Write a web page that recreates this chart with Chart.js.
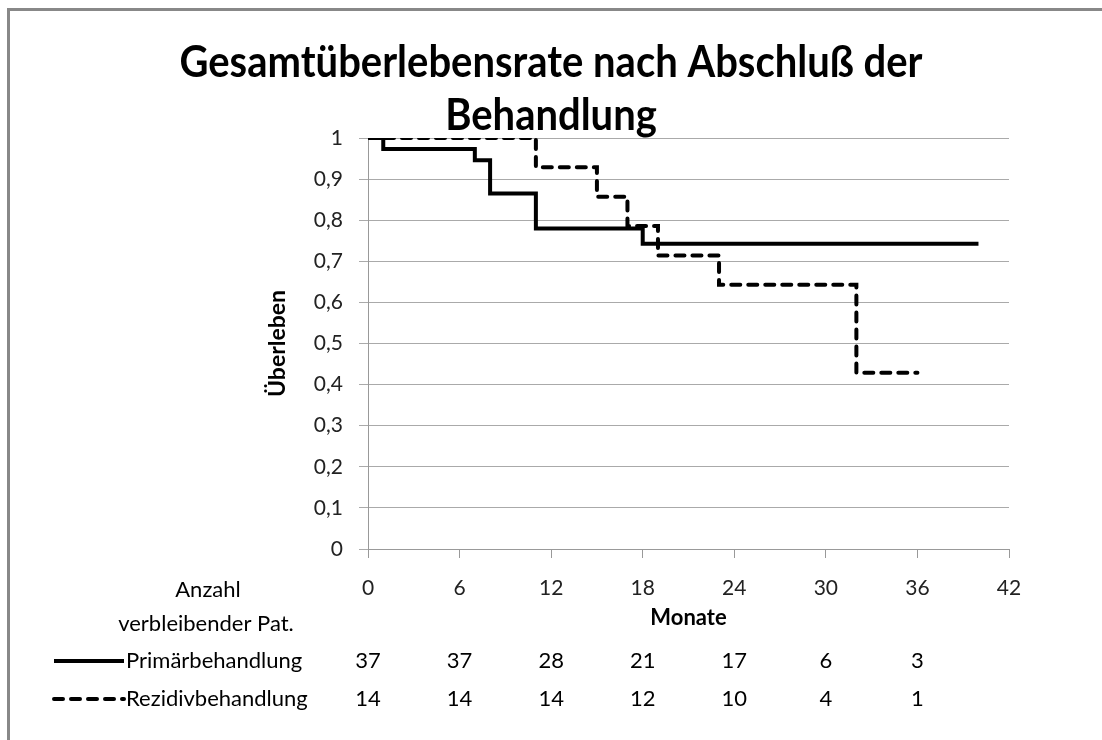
<!DOCTYPE html>
<html>
<head>
<meta charset="utf-8">
<script src="https://cdn.jsdelivr.net/npm/chart.js@4.4.1/dist/chart.umd.min.js"></script>
<style>
  html, body { margin: 0; padding: 0; background: #fff; }
  canvas { display: block; }
</style>
</head>
<body>
<canvas id="kmChart" width="1102" height="740"></canvas>
<script>
const chartTitle = ['Gesamtüberlebensrate nach Abschluß der', 'Behandlung'];
const seriesNames = ['Primärbehandlung', 'Rezidivbehandlung'];

// Kaplan-Meier Stufen (Monate / Überlebensrate)
const primaerMonate = [0, 1, 7, 8, 11, 18, 40];
const primaerRate = [1, 0.973, 0.946, 0.865, 0.78, 0.743, 0.743];
const rezidivMonate = [0, 11, 15, 17, 19, 23, 32, 36];
const rezidivRate = [1, 0.929, 0.857, 0.786, 0.714, 0.643, 0.429, 0.429];

// Anzahl verbleibender Patienten
const riskMonate = [0, 6, 12, 18, 24, 30, 36];
const riskPrimaer = [37, 37, 28, 21, 17, 6, 3];
const riskRezidiv = [14, 14, 14, 12, 10, 4, 1];

const FONT = 'Lato';
Chart.defaults.font.family = FONT;

const toPoints = (xs, ys) => xs.map((x, i) => ({ x: x, y: ys[i] }));

// Rahmen, Titel, Tabelle und Legende
const extras = {
    id: 'extras',
    beforeDraw(chart) {
        const ctx = chart.ctx;
        ctx.save();
        ctx.fillStyle = '#fff';
        ctx.fillRect(0, 0, chart.width, chart.height);
        ctx.fillStyle = '#888';
        ctx.fillRect(7, 8, chart.width - 7, 3);
        ctx.fillRect(7, 8, 3, chart.height - 8);
        ctx.restore();
    },
    afterDraw(chart) {
        const ctx = chart.ctx;
        const xScale = chart.scales.x;
        ctx.save();
        ctx.fillStyle = '#000';
        ctx.textBaseline = 'middle';

        // Titel etwas schmaler, wie Calibri
        ctx.save();
        ctx.textAlign = 'center';
        ctx.font = 'bold 43px ' + FONT;
        ctx.translate(551, 0);
        ctx.scale(0.93, 1);
        ctx.fillText(chartTitle[0], 0, 63);
        ctx.fillText(chartTitle[1], 0, 116);
        ctx.restore();

        ctx.textAlign = 'center';
        ctx.font = '22px ' + FONT;
        ctx.fillText('Anzahl', 208, 590);
        ctx.fillText('verbleibender Pat.', 206, 624);

        const rows = [
            { y: 661, dash: [], name: seriesNames[0], vals: riskPrimaer },
            { y: 699, dash: [9, 8], name: seriesNames[1], vals: riskRezidiv }
        ];
        rows.forEach(r => {
            ctx.beginPath();
            ctx.setLineDash(r.dash);
            ctx.lineCap = r.dash.length ? 'round' : 'butt';
            ctx.lineWidth = 4;
            ctx.strokeStyle = '#000';
            ctx.moveTo(54, r.y);
            ctx.lineTo(124, r.y);
            ctx.stroke();
            ctx.setLineDash([]);

            ctx.textAlign = 'left';
            ctx.font = '22px ' + FONT;
            ctx.fillText(r.name, 126, r.y);

            ctx.textAlign = 'center';
            ctx.font = '22px ' + FONT;
            r.vals.forEach((v, i) => {
                ctx.fillText(String(v), xScale.getPixelForValue(riskMonate[i]), r.y);
            });
        });
        ctx.restore();
    }
};

new Chart(document.getElementById('kmChart'), {
    type: 'line',
    data: {
        datasets: [{
            label: seriesNames[0],
            data: toPoints(primaerMonate, primaerRate),
            borderColor: '#000',
            borderWidth: 4,
            stepped: 'before',
            pointRadius: 0,
            fill: false
        }, {
            label: seriesNames[1],
            data: toPoints(rezidivMonate, rezidivRate),
            borderColor: '#000',
            borderWidth: 4,
            borderDash: [9, 8],
            borderCapStyle: 'round',
            stepped: 'before',
            pointRadius: 0,
            fill: false
        }]
    },
    options: {
        responsive: false,
        animation: false,
        layout: { padding: { left: 240, right: 93, top: 138, bottom: 101 } },
        plugins: {
            legend: { display: false },
            title: { display: false },
            tooltip: { enabled: false }
        },
        scales: {
            x: {
                type: 'linear',
                min: 0,
                max: 42,
                ticks: { stepSize: 6, padding: 18, color: '#222', font: { size: 21 } },
                grid: { drawOnChartArea: false, tickLength: 9, color: '#999' },
                border: { color: '#999' },
                title: {
                    display: true,
                    text: 'Monate',
                    color: '#000',
                    font: { size: 22, weight: 'bold' },
                    padding: { top: 0, bottom: 8 }
                },
                afterFit: s => { s.height = 90; }
            },
            y: {
                min: 0,
                max: 1,
                ticks: {
                    stepSize: 0.1,
                    padding: 16,
                    color: '#222',
                    font: { size: 21 },
                    callback: v => (v === 0 || v === 1) ? String(v) : v.toFixed(1).replace('.', ',')
                },
                grid: { color: '#aaa', tickLength: 9 },
                border: { color: '#999' },
                title: {
                    display: true,
                    text: 'Überleben',
                    color: '#000',
                    font: { size: 23, weight: 'bold' },
                    padding: { top: 24, bottom: 0 }
                },
                afterFit: s => { s.width = 128; }
            }
        }
    },
    plugins: [extras]
});
</script>
</body>
</html>
